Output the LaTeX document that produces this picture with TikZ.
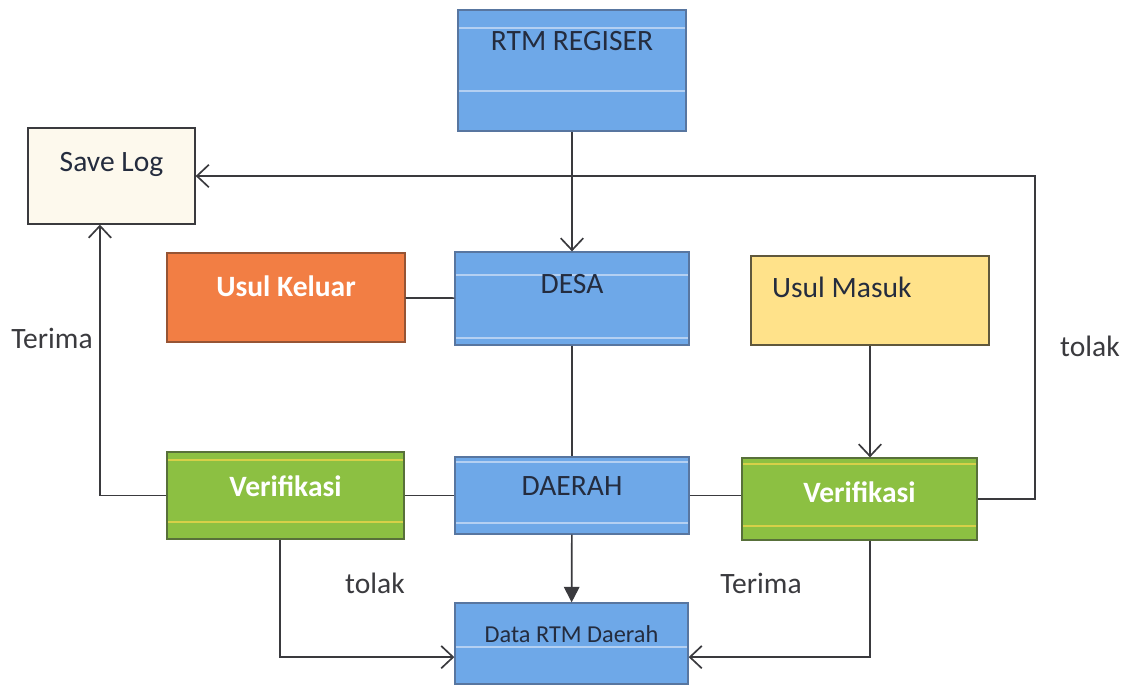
\documentclass[tikz,border=0pt]{standalone}
\usepackage{fontspec}
\setmainfont{Carlito}
\usetikzlibrary{arrows.meta}

\definecolor{boxblue}{RGB}{110,168,232}
\definecolor{blueedge}{RGB}{88,118,160}
\definecolor{stripeblue}{RGB}{180,208,242}
\definecolor{boxorange}{RGB}{242,126,68}
\definecolor{orangeedge}{RGB}{150,84,52}
\definecolor{boxyellow}{RGB}{255,226,138}
\definecolor{yellowedge}{RGB}{96,88,60}
\definecolor{boxgreen}{RGB}{140,192,66}
\definecolor{greenedge}{RGB}{88,112,58}
\definecolor{stripegreen}{RGB}{214,208,72}
\definecolor{boxcream}{RGB}{253,249,237}
\definecolor{inkdark}{RGB}{36,44,62}
\definecolor{linegray}{RGB}{58,58,62}

\begin{document}
\begin{tikzpicture}[x=0.025cm, y=-0.025cm,
    box/.style={rectangle, line width=0.9pt, inner sep=0pt},
    bluebox/.style={box, draw=blueedge, fill=boxblue,
        path picture={\foreach \d in {#1}
            \draw[stripeblue, line width=1pt]
                ([yshift=-\d*0.025cm]path picture bounding box.north west) --
                ([yshift=-\d*0.025cm]path picture bounding box.north east);}},
    greenbox/.style={box, draw=greenedge, fill=boxgreen,
        path picture={\foreach \d in {#1}
            \draw[stripegreen, line width=1pt]
                ([yshift=-\d*0.025cm]path picture bounding box.north west) --
                ([yshift=-\d*0.025cm]path picture bounding box.north east);}},
    boxtext/.style={font=\fontsize{21}{25}\selectfont, text=inkdark, inner sep=0pt},
    whitetext/.style={font=\bfseries\fontsize{21}{25}\selectfont, text=white, inner sep=0pt},
    note/.style={font=\fontsize{21}{25}\selectfont, text=linegray, inner sep=0pt},
    link/.style={draw=linegray, line width=1.2pt},
    openarrow/.style={link, -{Straight Barb[length=8.5pt,width=16pt,line width=1.2pt]}},
    fillarrow/.style={link, -{Triangle[length=11pt,width=11pt]}}]

    \useasboundingbox (0,0) rectangle (1121,687);

    % boxes
    \node[bluebox={18,81}, minimum width=5.7cm, minimum height=3.025cm,
        label={[boxtext, yshift=21pt]center:RTM REGISER}] (rtm) at (572,70.5) {};
    \node[box, draw=linegray, fill=boxcream, minimum width=4.175cm, minimum height=2.4cm,
        label={[boxtext, yshift=8.5pt]center:Save Log}] (save) at (111.5,176) {};
    \node[box, draw=orangeedge, fill=boxorange, minimum width=5.95cm, minimum height=2.225cm,
        label={[whitetext, yshift=8pt]center:Usul Keluar}] (keluar) at (286,297.5) {};
    \node[bluebox={23,86}, minimum width=5.85cm, minimum height=2.325cm,
        label={[boxtext, yshift=10pt]center:DESA}] (desa) at (572,298.5) {};
    \node[box, draw=yellowedge, fill=boxyellow, minimum width=5.95cm, minimum height=2.225cm,
        label={[boxtext, xshift=-20pt, yshift=9pt]center:Usul Masuk}] (masuk) at (870,300.5) {};
    \node[greenbox={8,70}, minimum width=5.925cm, minimum height=2.175cm,
        label={[whitetext, yshift=6.8pt]center:Verifikasi}] (verL) at (285.5,495.5) {};
    \node[bluebox={5,66}, minimum width=5.85cm, minimum height=1.925cm,
        label={[boxtext, yshift=6.4pt]center:DAERAH}] (daerah) at (572,495.5) {};
    \node[greenbox={6,68}, minimum width=5.875cm, minimum height=2.05cm,
        label={[whitetext, yshift=5pt]center:Verifikasi}] (verR) at (859.5,499) {};
    \node[bluebox={44}, minimum width=5.825cm, minimum height=2.025cm,
        label={[boxtext, font=\fontsize{17.3}{21}\selectfont, yshift=6.4pt]center:Data RTM Daerah}] (data) at (571.5,643.5) {};

    \coordinate (turnR) at (1035,176);

    % connectors
    \draw[openarrow] (rtm) -- (desa);
    \draw[link] (keluar) -- (desa);
    \draw[link] (desa) -- (daerah);
    \draw[link] (verL) -- (daerah);
    \draw[link] (daerah.east) -- (daerah.east -| verR.west);
    \draw[fillarrow] (daerah) -- (data);
    \draw[openarrow] (masuk.south) -- (masuk.south |- verR.north);
    \draw[openarrow] (verR.east) -| (turnR) -- (save);
    \draw[openarrow] (verL.west) -| ([xshift=-0.29cm]save.south);
    \draw[openarrow] ([xshift=-0.14cm]verL.south) |- ([yshift=-0.34cm]data.west);
    \draw[openarrow] ([xshift=0.26cm]verR.south) |- ([yshift=-0.34cm]data.east);

    % labels
    \node[note] (terimaL) at (52,338) {Terima};
    \node[note] (tolakR) at (1090,346) {tolak};
    \node[note] (tolakL) at (375,583) {tolak};
    \node[note] (terimaR) at (761,583) {Terima};

\end{tikzpicture}
\end{document}
